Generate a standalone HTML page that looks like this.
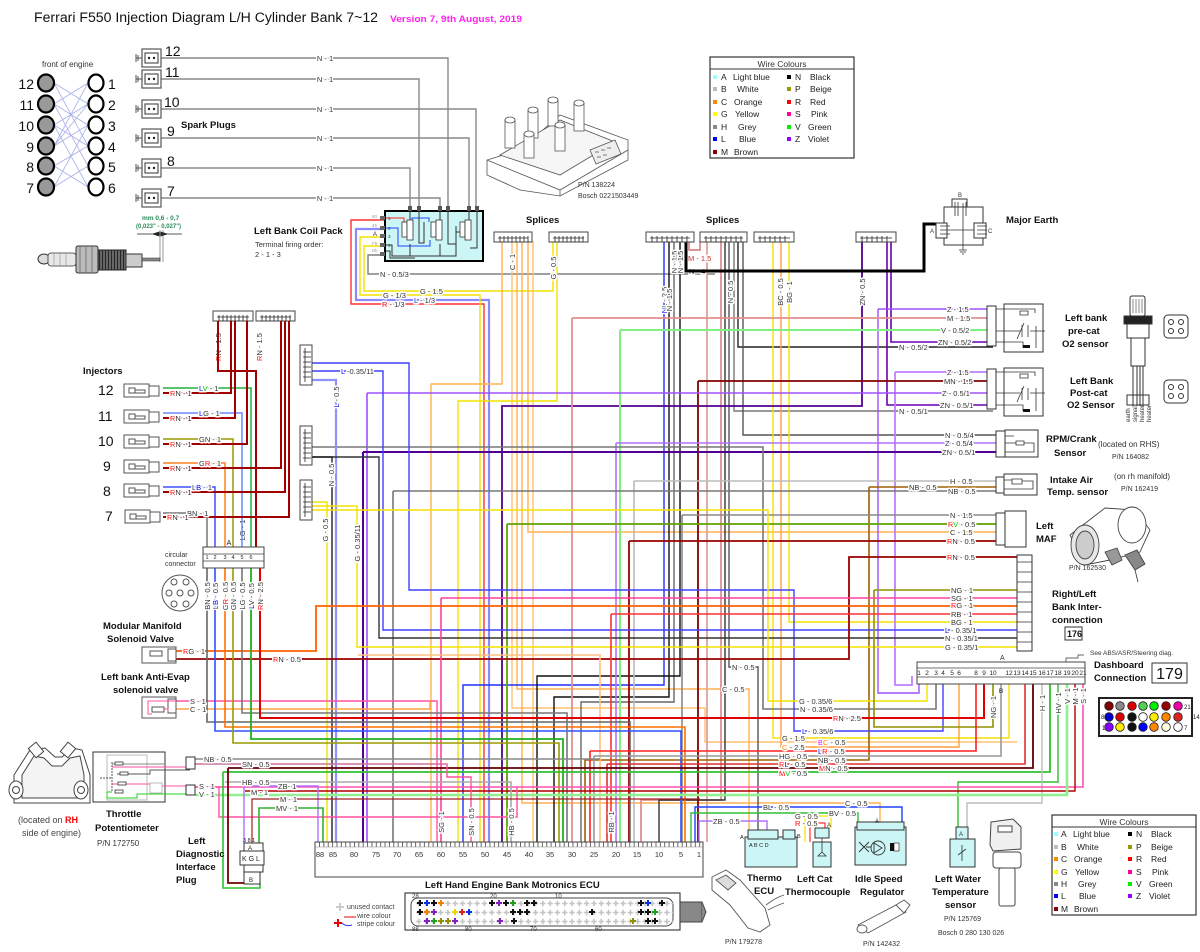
<!DOCTYPE html>
<html><head><meta charset="utf-8">
<style>
html,body{margin:0;padding:0;background:#fff;}
svg{display:block;}
text{font-family:"Liberation Sans",sans-serif;}
.l{font-size:7.5px;fill:#333;stroke:#fff;stroke-width:3px;paint-order:stroke;stroke-linejoin:round;}
.b{font-size:9.5px;font-weight:bold;fill:#111;}
.s{font-size:8px;fill:#333;}
.w path{fill:none;}
</style></head><body>
<svg width="1200" height="952" viewBox="0 0 1200 952" xmlns="http://www.w3.org/2000/svg">
<defs>
<pattern id="tk" x="319" y="842" width="4.37" height="8" patternUnits="userSpaceOnUse"><line x1="0.5" y1="0" x2="0.5" y2="5" stroke="#444" stroke-width="0.8"/></pattern>
<pattern id="cr" x="415" y="899" width="7.3" height="9" patternUnits="userSpaceOnUse"><path d="M1,4.5h5.5M3.75,1.7v5.6" stroke="#c4c4c4" stroke-width="1.6" fill="none"/></pattern>
<pattern id="sp" x="0" y="0" width="3" height="3" patternUnits="userSpaceOnUse"><rect width="3" height="3" fill="#666"/><line x1="0" y1="0" x2="0" y2="3" stroke="#111" stroke-width="1.5"/></pattern>
</defs>
<rect width="1200" height="952" fill="#fff"/>

<!-- Title -->
<text x="34" y="22" font-size="13.5" fill="#111" textLength="344" lengthAdjust="spacingAndGlyphs">Ferrari F550 Injection Diagram L/H Cylinder Bank 7~12</text>
<text x="390" y="22" font-size="9" font-weight="bold" fill="#ff22ee" textLength="132" lengthAdjust="spacingAndGlyphs">Version 7, 9th August, 2019</text>

<!-- Cylinder diagram -->
<text x="42" y="67" font-size="8" fill="#333">front of engine</text>
<g stroke="#a8b0ea" stroke-width="0.8" fill="none">
<path d="M54,83L88,104M54,83L88,146M54,104L88,83M54,104L88,125M54,104L88,166M54,125L88,104M54,125L88,187M54,146L88,125M54,146L88,83M54,166L88,146M54,166L88,187M54,187L88,166M54,187L88,125M54,125L88,146M54,146L88,104"/>
</g>
<g stroke="#000" stroke-width="2.2">
<ellipse cx="46" cy="83" rx="8" ry="8.5" fill="#999"/><ellipse cx="46" cy="104" rx="8" ry="8.5" fill="#999"/><ellipse cx="46" cy="125" rx="8" ry="8.5" fill="#999"/><ellipse cx="46" cy="146" rx="8" ry="8.5" fill="#999"/><ellipse cx="46" cy="166" rx="8" ry="8.5" fill="#999"/><ellipse cx="46" cy="187" rx="8" ry="8.5" fill="#999"/>
<ellipse cx="96" cy="83" rx="7.5" ry="8.5" fill="#fff"/><ellipse cx="96" cy="104" rx="7.5" ry="8.5" fill="#fff"/><ellipse cx="96" cy="125" rx="7.5" ry="8.5" fill="#fff"/><ellipse cx="96" cy="146" rx="7.5" ry="8.5" fill="#fff"/><ellipse cx="96" cy="166" rx="7.5" ry="8.5" fill="#fff"/><ellipse cx="96" cy="187" rx="7.5" ry="8.5" fill="#fff"/>
</g>
<g font-size="14" fill="#111" text-anchor="end">
<text x="34" y="89">12</text><text x="34" y="110">11</text><text x="34" y="131">10</text><text x="34" y="152">9</text><text x="34" y="172">8</text><text x="34" y="193">7</text>
</g>
<g font-size="14" fill="#111">
<text x="108" y="89">1</text><text x="108" y="110">2</text><text x="108" y="131">3</text><text x="108" y="152">4</text><text x="108" y="172">5</text><text x="108" y="193">6</text>
</g>

<!-- spark plug picture -->
<text x="142" y="220" font-size="6.5" font-weight="bold" fill="#2a8a5a">mm 0,6 - 0,7</text>
<text x="136" y="228" font-size="6" font-weight="bold" fill="#2a8a5a">(0,023" - 0,027")</text>
<path d="M137,234H182M153,234l6,-2v4zM167,234l-6,-2v4z" stroke="#222" stroke-width="0.8" fill="#222"/>
<line x1="160" y1="230" x2="160" y2="262" stroke="#555" stroke-width="0.6"/>
<line x1="163" y1="230" x2="163" y2="262" stroke="#555" stroke-width="0.6"/>
<ellipse cx="44" cy="259" rx="6" ry="5" fill="#ddd" stroke="#333"/>
<rect x="48" y="253" width="28" height="13" rx="3" fill="#e8e8e8" stroke="#333" stroke-width="0.8"/>
<path d="M54,253v13M60,253v13M66,253v13" stroke="#999" stroke-width="0.7"/>
<rect x="76" y="246" width="22" height="27" rx="2" fill="#bbb" stroke="#333"/>
<path d="M80,246v27M86,246v27M92,246v27" stroke="#777" stroke-width="1"/>
<rect x="98" y="250" width="28" height="20" fill="url(#sp)" stroke="#222"/>
<rect x="126" y="254" width="16" height="13" fill="#ccc" stroke="#333"/>
<path d="M142,258h18v3h-18z" fill="#888" stroke="#333" stroke-width="0.6"/>

<!-- Spark plug connectors and wires -->
<g class="w" stroke="#888" stroke-width="1.4">
<path d="M136,58H448V208"/><path d="M136,79H419V208"/><path d="M136,109H476V208"/><path d="M136,138H469V208"/><path d="M136,168H410V208"/><path d="M136,198H440V208"/>
</g>
<g stroke="#555" stroke-width="1.2" fill="#fff">
<rect x="142" y="49" width="19" height="18"/><rect x="142" y="70" width="19" height="18"/><rect x="142" y="100" width="19" height="18"/><rect x="142" y="129" width="19" height="18"/><rect x="142" y="159" width="19" height="18"/><rect x="142" y="189" width="19" height="18"/>
<rect x="145" y="53" width="13" height="10"/><rect x="145" y="74" width="13" height="10"/><rect x="145" y="104" width="13" height="10"/><rect x="145" y="133" width="13" height="10"/><rect x="145" y="163" width="13" height="10"/><rect x="145" y="193" width="13" height="10"/>
</g>
<g fill="#222">
<circle cx="149" cy="58" r="1.2"/><circle cx="154" cy="58" r="1.2"/><circle cx="149" cy="79" r="1.2"/><circle cx="154" cy="79" r="1.2"/><circle cx="149" cy="109" r="1.2"/><circle cx="154" cy="109" r="1.2"/><circle cx="149" cy="138" r="1.2"/><circle cx="154" cy="138" r="1.2"/><circle cx="149" cy="168" r="1.2"/><circle cx="154" cy="168" r="1.2"/><circle cx="149" cy="198" r="1.2"/><circle cx="154" cy="198" r="1.2"/>
</g>
<g stroke="#555" stroke-width="1"><path d="M136,54v8M138,55v6M136,75v8M138,76v6M136,105v8M138,106v6M136,134v8M138,135v6M136,164v8M138,165v6M136,194v8M138,195v6"/></g>
<g font-size="14" fill="#111">
<text x="165" y="56">12</text><text x="165" y="77">11</text><text x="164" y="107">10</text><text x="167" y="136">9</text><text x="167" y="166">8</text><text x="167" y="196">7</text>
</g>
<g class="l" text-anchor="middle"><text x="325" y="61">N - 1</text><text x="325" y="82">N - 1</text><text x="325" y="112">N - 1</text><text x="325" y="141">N - 1</text><text x="325" y="171">N - 1</text><text x="325" y="201">N - 1</text></g>
<text x="181" y="128" class="b">Spark Plugs</text>

<!-- Coil pack 3D drawing -->
<g stroke="#555" stroke-width="0.8" fill="#fff">
<path d="M487,160L520,150L560,115L628,140L628,160L560,196L520,190L487,175Z"/>
<path d="M487,160L560,190L628,150"/>
<path d="M560,190V196"/>
<path d="M500,155L560,120L615,142L560,175Z" fill="#f6f6f6"/>
<rect x="505" y="120" width="10" height="28"/><ellipse cx="510" cy="120" rx="5" ry="3"/>
<rect x="528" y="110" width="10" height="28"/><ellipse cx="533" cy="110" rx="5" ry="3"/>
<rect x="548" y="100" width="10" height="26"/><ellipse cx="553" cy="100" rx="5" ry="3"/>
<rect x="574" y="103" width="10" height="28"/><ellipse cx="579" cy="103" rx="5" ry="3"/>
<rect x="555" y="125" width="10" height="26"/><ellipse cx="560" cy="125" rx="5" ry="3"/>
<rect x="524" y="134" width="10" height="24"/><ellipse cx="529" cy="134" rx="5" ry="3"/>
<path d="M590,150l25,-10l6,14l-25,10z" fill="#eee"/>
<path d="M595,152h4M601,150h4M607,148h4M597,157h4M603,155h4" stroke="#555"/>
</g>
<text x="578" y="187" font-size="7" fill="#333">P/N 138224</text>
<text x="578" y="198" font-size="7" fill="#333">Bosch 0221503449</text>

<!-- Coil wires -->
<g class="w" stroke-width="1.4">
<path d="M404,228V220H351V304H484V842" stroke="#ff3030"/>
<path d="M383,229H356V300H489V842" stroke="#8a8aff" stroke-width="2.2"/>
<path d="M383,237H360V295H480V842" stroke="#f2e200"/>
<path d="M383,246H364V291H553V241" stroke="#f2e200"/>
<path d="M383,255H368V274H715" stroke="#808080"/>
</g>
<!-- coil pack box -->
<rect x="385" y="211" width="98" height="50" fill="#ccf6f6" stroke="#000" stroke-width="2"/>
<g fill="#555"><rect x="408" y="206" width="4" height="5"/><rect x="417" y="206" width="4" height="5"/><rect x="438" y="206" width="4" height="5"/><rect x="446" y="206" width="4" height="5"/><rect x="467" y="206" width="4" height="5"/><rect x="475" y="206" width="4" height="5"/></g>
<g fill="#666"><rect x="380" y="216" width="5" height="4"/><rect x="380" y="226" width="5" height="4"/><rect x="380" y="234" width="5" height="4"/><rect x="380" y="243" width="5" height="4"/><rect x="380" y="252" width="5" height="4"/></g>
<g fill="none" stroke-width="1">
<path d="M386,218H404V222" stroke="#ff2020"/>
<path d="M386,228H398V246H430V240M412,238V218H429V222" stroke="#2040ff"/>
<path d="M410,211V222M419,211V243H424V222M440,211V222M448,211V244H456V226M469,211V222M477,211V248H470" stroke="#333"/>
<path d="M386,245H392V256H456V232H462M386,251H390V258H415M410,244V256M440,244V256" stroke="#333"/>
</g>
<g fill="#fff" stroke="#333" stroke-width="0.8">
<rect x="402" y="222" width="5" height="15"/><rect x="407" y="220" width="6" height="20"/>
<rect x="431" y="222" width="5" height="15"/><rect x="436" y="220" width="6" height="20"/>
<rect x="460" y="222" width="5" height="15"/><rect x="465" y="220" width="6" height="20"/>
</g>
<g font-size="4.5" fill="#333"><text x="388" y="220">1</text><text x="388" y="230">2</text><text x="388" y="238">3</text><text x="388" y="247">4</text></g>
<g font-size="4.5" fill="#999"><text x="372" y="218">50</text><text x="372" y="227">45</text><text x="373" y="236" fill="#333" font-size="6">A</text><text x="372" y="245">F5</text><text x="372" y="252">Dk</text></g>

<text x="254" y="234" class="b">Left Bank Coil Pack</text>
<text x="255" y="247" font-size="7.5" fill="#333">Terminal firing order:</text>
<text x="255" y="257" font-size="7.5" fill="#333">2 - 1 - 3</text>
<g class="l"><text x="380" y="277">N - 0.5/3</text><text x="383" y="298">G - 1/3</text><text x="420" y="294">G - 1.5</text><text x="414" y="303"><tspan fill="#2020ff">L</tspan> - 1/3</text><text x="382" y="307"><tspan fill="#ff0000">R</tspan> - 1/3</text></g>

<!-- Legend 1 -->
<rect x="710" y="57" width="144" height="101" fill="#fff" stroke="#333" stroke-width="1.2"/>
<line x1="710" y1="69" x2="854" y2="69" stroke="#333"/>
<text x="782" y="67" font-size="8.5" fill="#333" text-anchor="middle">Wire Colours</text>
<g font-size="8.5" fill="#222">
<rect x="713" y="75" width="4" height="4" fill="#9ff"/><text x="721" y="80">A</text><text x="733" y="80">Light blue</text>
<rect x="713" y="87" width="4" height="4" fill="#bbb"/><text x="721" y="92">B</text><text x="737" y="92">White</text>
<rect x="713" y="100" width="4" height="4" fill="#f80"/><text x="721" y="105">C</text><text x="734" y="105">Orange</text>
<rect x="713" y="112" width="4" height="4" fill="#ff0"/><text x="721" y="117">G</text><text x="735" y="117">Yellow</text>
<rect x="713" y="125" width="4" height="4" fill="#888"/><text x="721" y="130">H</text><text x="738" y="130">Grey</text>
<rect x="713" y="137" width="4" height="4" fill="#00f"/><text x="721" y="142">L</text><text x="739" y="142">Blue</text>
<rect x="713" y="150" width="4" height="4" fill="#800"/><text x="721" y="155">M</text><text x="734" y="155">Brown</text>
<rect x="787" y="75" width="4" height="4" fill="#000"/><text x="795" y="80">N</text><text x="810" y="80">Black</text>
<rect x="787" y="87" width="4" height="4" fill="#990"/><text x="795" y="92">P</text><text x="810" y="92">Beige</text>
<rect x="787" y="100" width="4" height="4" fill="#f00"/><text x="795" y="105">R</text><text x="810" y="105">Red</text>
<rect x="787" y="112" width="4" height="4" fill="#f09"/><text x="795" y="117">S</text><text x="811" y="117">Pink</text>
<rect x="787" y="125" width="4" height="4" fill="#0e0"/><text x="795" y="130">V</text><text x="808" y="130">Green</text>
<rect x="787" y="137" width="4" height="4" fill="#90f"/><text x="795" y="142">Z</text><text x="808" y="142">Violet</text>
</g>

<!-- Splices labels -->
<text x="526" y="223" class="b">Splices</text>
<text x="706" y="223" class="b">Splices</text>

<!-- ===== MAIN WIRING ===== -->
<g class="w" stroke-width="1.4">
<path d="M502,241V384H431V842" stroke="#ffb050"/>
<path d="M512,241V708H705V742H1017" stroke="#ffc070"/>
<path d="M517,241V689H749V837" stroke="#ffb050"/>
<path d="M522,241V803H880V827" stroke="#ffb050"/>
<path d="M528,241V532H1005" stroke="#ffb050"/>
<path d="M533,241V842" stroke="#ffc070"/>
<path d="M557,241V401H458V842" stroke="#f2e200"/>
<path d="M664,241V685H463V842" stroke="#2030ff"/>
<path d="M669,241V697H554V842" stroke="#111"/>
<path d="M674,241V702H581V842" stroke="#666"/>
<path d="M680,241V676H537V842" stroke="#111"/>
<path d="M689,241V250H700V241" stroke="#d07070"/>
<path d="M707,241V842" stroke="#e0a0a0" stroke-width="1.8"/>
<path d="M721,241V800H641V842" stroke="#e09090" stroke-width="1.8"/>
<path d="M725,241V800H659V842" stroke="#333"/>
<path d="M729,241V667H758V838" stroke="#555"/>
<path d="M734,241V411H993" stroke="#777"/>
<path d="M738,241V347H993" stroke="#222"/>
<path d="M743,241V435H996" stroke="#555"/>
<path d="M773,241V738H1009V684" stroke="#f2e200"/>
<path d="M781,241V747H959V684" stroke="#ffa040"/>
<path d="M789,241V622H1017" stroke="#f2e200"/>
<path d="M862,241V406H502V842" stroke="#500090" stroke-width="1.8"/>
<path d="M887,241V405H996" stroke="#6a00b0" stroke-width="1.6"/>
<path d="M891,241V342H996" stroke="#6a00b0" stroke-width="1.6"/>
<path d="M878,309H993M878,309V693H919V684" stroke="#a050ff"/>
<path d="M572,318H993M572,318V842" stroke="#e09090" stroke-width="1.8"/>
<path d="M620,330H993M620,330V842" stroke="#80f080" stroke-width="2"/>
<path d="M895,372H993M895,372V685H912V676" stroke="#c080ff" stroke-width="1.8"/>
<path d="M698,381H993M698,381V842" stroke="#800000" stroke-width="1.8"/>
<path d="M367,393H993M367,393V842" stroke="#a050ff" stroke-width="1.6"/>
<path d="M616,443H996M616,443V842" stroke="#b070ff" stroke-width="1.6"/>
<path d="M363,452H996M363,452V842" stroke="#500090" stroke-width="2"/>
<path d="M311,447H763V709H936V684" stroke="#777" stroke-width="1.6"/>
<path d="M634,481H1004M634,481V842" stroke="#bbb" stroke-width="1.6"/>
<path d="M393,491H1004M393,491V842" stroke="#777" stroke-width="1.6"/>
<path d="M869,487H1004M869,487V760H585V842" stroke="#a06000" stroke-width="1.6"/>
<path d="M682,515H1005M682,515V842" stroke="#888" stroke-width="1.6"/>
<path d="M507,524H1005M507,524V842" stroke="#60a000" stroke-width="1.8"/>
<path d="M629,541H1005M629,541V842" stroke="#900" stroke-width="1.8"/>
<path d="M311,363H409V590H794V731H943V684" stroke="#4040ff"/>
<path d="M311,371H383V630H1017" stroke="#4040ff"/>
<path d="M311,380H336V842" stroke="#9090ff" stroke-width="2.2"/>
<path d="M311,457H379V638H1017" stroke="#333"/>
<path d="M311,457H332V842" stroke="#222"/>
<path d="M311,506H357V647H1017" stroke="#f2e200"/>
<path d="M311,510H768V701H927V684" stroke="#f2e200"/>
<path d="M311,502H327V842" stroke="#f2e200"/>
<path d="M176,659H849V557H1017" stroke="#900" stroke-width="1.8"/>
<path d="M874,590H1017M874,590V727H993V684" stroke="#909000" stroke-width="1.6"/>
<path d="M441,598H1017M441,598V842" stroke="#ff40a0" stroke-width="1.6"/>
<path d="M176,651H316V606H1017" stroke="#ff6000" stroke-width="1.8"/>
<path d="M611,614H1017M611,614V842" stroke="#ff3030" stroke-width="1.6"/>
<path d="M358,655H600V842" stroke="#ffc080" stroke-width="1.6"/>
<path d="M176,701H437V842" stroke="#ff50a0"/>
<path d="M176,709H430V700" stroke="#ffa040"/>
<path d="M207,568V722H630V842" stroke="#666" stroke-width="1.6"/>
<path d="M215,568V731H681V842" stroke="#3050ff" stroke-width="1.6"/>
<path d="M225,568V727H685V842" stroke="#ff7000" stroke-width="1.6"/>
<path d="M233,568V743H559V842" stroke="#9a9a00" stroke-width="1.6"/>
<path d="M242,568V713H567V842" stroke="#777" stroke-width="1.6"/>
<path d="M251,568V739H563V842" stroke="#20b020" stroke-width="1.8"/>
<path d="M260,568V718H984V684" stroke="#e00000" stroke-width="2"/>
<path d="M590,751H976V684M590,751V842" stroke="#ff2020" stroke-width="1.6"/>
<path d="M594,756H1001V684M594,756V842" stroke="#999" stroke-width="1.6"/>
<path d="M607,764H1025V684M607,764V842" stroke="#e03030" stroke-width="1.6"/>
<path d="M228,768H1033V684" stroke="#600000" stroke-width="1.8"/>
<path d="M223,772H1050V684" stroke="#30c030" stroke-width="1.8"/>
<path d="M1058,684V782H958V833" stroke="#30c030" stroke-width="1.4"/>
<path d="M1042,684V803H967V833" stroke="#bbb" stroke-width="1.4"/>
<path d="M195,787H1083V684" stroke="#ff50b0" stroke-width="1.6"/>
<path d="M245,791H1075V684" stroke="#b00000" stroke-width="1.4"/>
<path d="M195,795H1067V684" stroke="#90f090" stroke-width="2.6"/>
<path d="M195,759H600" stroke="#888" stroke-width="1.6"/>
<path d="M195,764H447V777H471V842" stroke="#ff50a0" stroke-width="1.4"/>
<path d="M195,764H447" stroke="#999" stroke-width="0.8"/>
<path d="M225,782H511V842" stroke="#aaa" stroke-width="1.6"/>
<path d="M195,787H219V817H517V787" stroke="#ff50a0" stroke-width="1.4"/>
<path d="M244,843V786H318V842" stroke="#b070ff" stroke-width="1.4"/>
<path d="M252,843V799H700" stroke="#a02020" stroke-width="1.2"/>
<path d="M259,843V808H323V842" stroke="#30b030" stroke-width="1.6"/>
<path d="M228,768V883H248V883" stroke="#700000" stroke-width="1.8"/>
<path d="M223,772V888H260V883" stroke="#30c030" stroke-width="1.6"/>
<path d="M695,842V807H902V827" stroke="#2040ff" stroke-width="1.4"/>
<path d="M691,842V813H858V827" stroke="#30c030" stroke-width="1.4"/>
<path d="M699,842V821H767V837" stroke="#b070ff" stroke-width="1.4"/>
<path d="M805,842V816H831V828" stroke="#f2e200" stroke-width="1.2"/>
<path d="M810,842V823H825V828" stroke="#ff3030" stroke-width="1.2"/>
</g>

<!-- labels -->
<g class="l">
<text x="947" y="312">Z - 1.5</text><text x="947" y="321">M - 1.5</text><text x="941" y="333">V - 0.5/2</text><text x="938" y="345">ZN - 0.5/2</text><text x="899" y="350">N - 0.5/2</text>
<text x="947" y="375">Z - 1.5</text><text x="944" y="384">MN - 1.5</text><text x="942" y="396">Z - 0.5/1</text><text x="940" y="408">ZN - 0.5/1</text><text x="899" y="414">N - 0.5/1</text>
<text x="945" y="438">N - 0.5/4</text><text x="945" y="446">Z - 0.5/4</text><text x="942" y="455">ZN - 0.5/1</text>
<text x="950" y="484">H - 0.5</text><text x="909" y="490">NB - 0.5</text><text x="948" y="494">NB - 0.5</text>
<text x="950" y="518">N - 1.5</text><text x="948" y="527"><tspan fill="#f00">R</tspan><tspan fill="#0c0">V</tspan> - 0.5</text><text x="950" y="535">C - 1.5</text><text x="947" y="544"><tspan fill="#f00">R</tspan>N - 0.5</text>
<text x="947" y="560"><tspan fill="#f00">R</tspan>N - 0.5</text><text x="951" y="593">NG - 1</text><text x="951" y="601">SG - 1</text><text x="951" y="608"><tspan fill="#f00">R</tspan>G - 1</text><text x="951" y="617">RB - 1</text><text x="951" y="625">BG - 1</text>
<text x="945" y="633"><tspan fill="#00f">L</tspan> - 0.35/1</text><text x="945" y="641">N - 0.35/1</text><text x="945" y="650">G - 0.35/1</text>
<text x="799" y="704">G - 0.35/6</text><text x="800" y="712">N - 0.35/6</text><text x="833" y="721"><tspan fill="#f00">R</tspan>N - 2.5</text><text x="802" y="734"><tspan fill="#00f">L</tspan> - 0.35/6</text>
<text x="782" y="741">G - 1.5</text><text x="818" y="745"><tspan fill="#f0f">B</tspan><tspan fill="#f80">C</tspan> - 0.5</text><text x="782" y="750"><tspan fill="#f80">C</tspan> - 2.5</text><text x="818" y="754"><tspan fill="#00f">L</tspan><tspan fill="#f00">R</tspan> - 0.5</text>
<text x="779" y="759">HG - 0.5</text><text x="818" y="763">NB - 0.5</text><text x="779" y="767"><tspan fill="#f00">R</tspan><tspan fill="#00f">L</tspan> - 0.5</text><text x="819" y="771"><tspan fill="#f00">M</tspan>N - 0.5</text><text x="779" y="776"><tspan fill="#f00">M</tspan><tspan fill="#0c0">V</tspan> - 0.5</text>
<text x="732" y="670">N - 0.5</text><text x="722" y="692">C - 0.5</text>
<text x="763" y="810">BL - 0.5</text><text x="845" y="806">C - 0.5</text><text x="829" y="816">BV - 0.5</text><text x="795" y="819">G - 0.5</text><text x="795" y="826"><tspan fill="#f00">R</tspan> - 0.5</text><text x="713" y="824">ZB - 0.5</text>
<text x="183" y="654"><tspan fill="#f00">R</tspan>G - 1</text><text x="273" y="662"><tspan fill="#f00">R</tspan>N - 0.5</text><text x="190" y="704">S - 1</text><text x="190" y="712">C - 1</text>
<text x="204" y="762">NB - 0.5</text><text x="242" y="767">SN - 0.5</text><text x="242" y="785">HB - 0.5</text><text x="199" y="789">S - 1</text><text x="199" y="797">V - 1</text><text x="278" y="789">ZB- 1</text><text x="251" y="795">M - 1</text><text x="280" y="802">M - 1</text><text x="276" y="811">MV - 1</text>
<text x="688" y="261" fill="#d03030">M - 1.5</text><text x="689" y="274">N - 4</text>
</g>
<path d="M686,241V271H924V224H937" fill="none" stroke="#000" stroke-width="3"/>
<g class="l" font-size="7">
<text transform="translate(515,262) rotate(-90)" text-anchor="middle">C - 1</text>
<text transform="translate(556,268) rotate(-90)" text-anchor="middle">G - 0.5</text>
<text transform="translate(667,300) rotate(-90)" text-anchor="middle"><tspan fill="#00f">N</tspan>L - 2.5</text>
<text transform="translate(677,262) rotate(-90)" text-anchor="middle">N - 1.5</text>
<text transform="translate(683,262) rotate(-90)" text-anchor="middle">N - 1.5</text>
<text transform="translate(672,300) rotate(-90)" text-anchor="middle">N - 1.5</text>
<text transform="translate(733,292) rotate(-90)" text-anchor="middle">N - 0.5</text>
<text transform="translate(783,292) rotate(-90)" text-anchor="middle">BC - 0.5</text>
<text transform="translate(792,292) rotate(-90)" text-anchor="middle">BG - 1</text>
<text transform="translate(865,292) rotate(-90)" text-anchor="middle">ZN - 0.5</text>
<text transform="translate(221,347) rotate(-90)" text-anchor="middle"><tspan fill="#f00">R</tspan>N - 1.5</text>
<text transform="translate(262,347) rotate(-90)" text-anchor="middle"><tspan fill="#f00">R</tspan>N - 1.5</text>
<text transform="translate(339,397) rotate(-90)" text-anchor="middle"><tspan fill="#00f">L</tspan> - 0.5</text>
<text transform="translate(334,475) rotate(-90)" text-anchor="middle">N - 0.5</text>
<text transform="translate(328,530) rotate(-90)" text-anchor="middle">G - 0.5</text>
<text transform="translate(360,543) rotate(-90)" text-anchor="middle">G - 0.35/11</text>
<text transform="translate(245,530) rotate(-90)" text-anchor="middle">LG - 1</text>
<text transform="translate(444,822) rotate(-90)" text-anchor="middle">SG - 1</text>
<text transform="translate(474,822) rotate(-90)" text-anchor="middle">SN - 0.5</text>
<text transform="translate(514,822) rotate(-90)" text-anchor="middle">HB - 0.5</text>
<text transform="translate(614,822) rotate(-90)" text-anchor="middle">RB - 1</text>
<text transform="translate(996,707) rotate(-90)" text-anchor="middle">NG - 1</text>
<text transform="translate(1045,703) rotate(-90)" text-anchor="middle">H - 1</text>
<text transform="translate(1061,703) rotate(-90)" text-anchor="middle">HV - 1</text>
<text transform="translate(1070,696) rotate(-90)" text-anchor="middle">V - 1</text>
<text transform="translate(1078,696) rotate(-90)" text-anchor="middle">M - 1</text>
<text transform="translate(1086,696) rotate(-90)" text-anchor="middle">S - 1</text>
</g>
<text x="341" y="374" class="l"><tspan fill="#00f">L</tspan> -0.35/11</text>

<!-- Splice boxes -->
<g fill="#fff" stroke="#444" stroke-width="1">
<rect x="494" y="232" width="38" height="10"/><rect x="549" y="232" width="39" height="10"/><rect x="646" y="232" width="48" height="10"/><rect x="700" y="232" width="47" height="10"/><rect x="754" y="232" width="40" height="10"/><rect x="856" y="232" width="40" height="10"/>
<rect x="213" y="311" width="40" height="10"/><rect x="256" y="311" width="39" height="10"/>
</g>
<g stroke="#222" stroke-width="0.8">
<path d="M498,238H528M500,236v6M504,236v6M508,236v6M512,236v6M516,236v6M520,236v6M524,236v6M528,236v6"/>
<path d="M553,238H584M555,236v6M559,236v6M563,236v6M567,236v6M571,236v6M575,236v6M579,236v6M583,236v6"/>
<path d="M650,238H690M652,236v6M657,236v6M662,236v6M667,236v6M672,236v6M677,236v6M682,236v6M687,236v6"/>
<path d="M704,238H743M706,236v6M711,236v6M716,236v6M721,236v6M726,236v6M731,236v6M736,236v6M741,236v6"/>
<path d="M758,238H790M760,236v6M765,236v6M770,236v6M775,236v6M780,236v6M785,236v6"/>
<path d="M860,238H892M862,236v6M867,236v6M872,236v6M877,236v6M882,236v6M887,236v6"/>
<path d="M217,317H249M219,315v6M223,315v6M227,315v6M231,315v6M235,315v6M239,315v6M243,315v6M247,315v6"/>
<path d="M260,317H291M262,315v6M266,315v6M270,315v6M274,315v6M278,315v6M282,315v6M286,315v6M290,315v6"/>
</g>

<!-- Major Earth -->
<g fill="#fff" stroke="#333" stroke-width="1">
<rect x="944" y="207" width="39" height="38"/>
<rect x="952" y="199" width="15" height="8"/><rect x="936" y="223" width="11" height="15"/><rect x="974" y="223" width="12" height="15"/>
</g>
<path d="M963,203v40M955,202v14M958,202v14M966,202v14M940,226h10M940,230h10M940,234h10M977,226h10M977,230h10M977,234h10M947,230h27M963,243v7M959,250h8M960,252h6M962,254h2" stroke="#333" stroke-width="0.8" fill="none"/>
<text x="958" y="197" font-size="6" fill="#333">B</text><text x="930" y="233" font-size="6" fill="#333">A</text><text x="988" y="233" font-size="6" fill="#333">C</text>
<text x="1006" y="223" class="b">Major Earth</text>

<!-- sensors -->
<g fill="#fff" stroke="#333" stroke-width="1">
<rect x="987" y="306" width="9" height="40"/><rect x="1004" y="304" width="39" height="48"/>
<rect x="987" y="369" width="9" height="40"/><rect x="1004" y="368" width="39" height="48"/>
<rect x="996" y="431" width="9" height="26"/><rect x="1005" y="430" width="33" height="27"/>
<rect x="996" y="477" width="8" height="16"/><rect x="1004" y="474" width="33" height="21"/>
<rect x="996" y="513" width="9" height="32"/><rect x="1005" y="511" width="21" height="36"/>
<rect x="1017" y="555" width="15" height="96"/>
</g>
<g fill="none" stroke="#333" stroke-width="0.8">
<path d="M996,309H1035V313M1028,311h-8v4h8zM996,331H1020M1030,331H1045M1024,323l-7,16M1022,325v12M1028,325v12M996,342H1023V348M1036,326V348"/>
<path d="M996,372H1035V376M1028,374h-8v4h8zM996,393H1020M1030,393H1045M1024,386l-7,16M1022,388v12M1028,388v12M996,405H1023V411M1036,388V411"/>
<path d="M1005,436H1014M1005,443H1016M1016,441h8v4h-8zM1024,443H1034V452H1005"/>
<path d="M1004,480H1012M1012,479h10v5h-10zM1022,481H1033V489H1004"/>
<path d="M1017,562h15M1017,572h15M1017,582h15M1017,592h15M1017,602h15M1017,612h15M1017,622h15M1017,632h15M1017,642h15"/>
</g>
<rect x="1023" y="345" width="7" height="3" fill="#111"/><rect x="1023" y="409" width="7" height="3" fill="#111"/>
<text x="1065" y="321" class="b">Left bank</text><text x="1068" y="334" class="b">pre-cat</text><text x="1062" y="347" class="b">O2 sensor</text>
<text x="1070" y="384" class="b">Left Bank</text><text x="1070" y="396" class="b">Post-cat</text><text x="1067" y="408" class="b">O2 Sensor</text>
<text x="1046" y="442" class="b">RPM/Crank</text><text x="1054" y="456" class="b">Sensor</text>
<text x="1098" y="447" font-size="8" fill="#333">(located on RHS)</text><text x="1112" y="459" font-size="7" fill="#333">P/N 164082</text>
<text x="1050" y="483" class="b">Intake Air</text><text x="1047" y="495" class="b">Temp. sensor</text>
<text x="1114" y="479" font-size="8" fill="#333">(on rh manifold)</text><text x="1121" y="491" font-size="7" fill="#333">P/N 162419</text>
<text x="1036" y="529" class="b">Left</text><text x="1036" y="542" class="b">MAF</text>
<text x="1069" y="570" font-size="7" fill="#333">P/N 162530</text>
<text x="1052" y="597" class="b">Right/Left</text><text x="1052" y="610" class="b">Bank Inter-</text><text x="1052" y="623" class="b">connection</text>
<rect x="1065" y="627" width="17" height="13" fill="#fff" stroke="#333"/><text x="1067" y="637" font-size="9" font-weight="bold" fill="#111">176</text>

<!-- O2 sensor picture -->
<g stroke="#333" stroke-width="1" fill="#fff">
<rect x="1130" y="296" width="15" height="20" rx="2"/><path d="M1133,299v14M1136,299v14M1139,299v14M1142,299v14" stroke="#888"/>
<rect x="1124" y="316" width="28" height="8" fill="#222"/>
<rect x="1127" y="324" width="22" height="14"/>
<rect x="1131" y="338" width="14" height="28"/>
<path d="M1133,366v40M1137,366v40M1140,366v40M1143,366v40"/>
<path d="M1127,395h22v10h-22z" fill="none"/>
</g>
<text transform="translate(1130,422) rotate(-90)" font-size="6" fill="#333">earth</text>
<text transform="translate(1137,422) rotate(-90)" font-size="6" fill="#333">signal</text>
<text transform="translate(1144,422) rotate(-90)" font-size="6" fill="#333">heater</text>
<text transform="translate(1151,422) rotate(-90)" font-size="6" fill="#333">heater</text>
<g stroke="#333" stroke-width="1" fill="#fff">
<rect x="1164" y="315" width="24" height="23" rx="4"/><circle cx="1171" cy="322" r="2.5"/><circle cx="1181" cy="322" r="2.5"/><circle cx="1171" cy="331" r="2.5"/><circle cx="1181" cy="331" r="2.5"/>
<rect x="1164" y="380" width="24" height="23" rx="4"/><circle cx="1171" cy="387" r="2.5"/><circle cx="1181" cy="387" r="2.5"/><circle cx="1171" cy="396" r="2.5"/><circle cx="1181" cy="396" r="2.5"/>
</g>
<!-- MAF picture -->
<g stroke="#444" stroke-width="0.9" fill="#fff">
<path d="M1070,535L1105,508L1135,510L1150,530L1140,552L1110,560L1085,565Z"/>
<ellipse cx="1085" cy="545" rx="14" ry="20" fill="#e8e8e8"/>
<ellipse cx="1085" cy="545" rx="9" ry="14" fill="#ccc"/>
<ellipse cx="1132" cy="525" rx="14" ry="18"/>
<path d="M1105,552l12,-4l5,12l-10,5z" fill="#999"/>
<path d="M1125,555l12,-5l8,14l-10,6z" fill="#888"/>
<path d="M1135,570l3,12" />
</g>

<!-- Dashboard connection -->
<text x="1090" y="655" font-size="6.5" fill="#333">See ABS/ASR/Steering diag.</text>
<path d="M1066,662v-4h12v-3h6" fill="none" stroke="#333" stroke-width="0.7"/>
<rect x="917" y="662" width="168" height="22" fill="#fff" stroke="#444"/>
<path d="M917,668H1085M917,677H1085" stroke="#444" stroke-width="0.7"/>
<text x="1000" y="660" font-size="7" fill="#333">A</text>
<g font-size="6.5" fill="#222" text-anchor="middle">
<text x="919" y="675">1</text><text x="927" y="675">2</text><text x="936" y="675">3</text><text x="943" y="675">4</text><text x="952" y="675">5</text><text x="959" y="675">6</text><text x="976" y="675">8</text><text x="984" y="675">9</text><text x="993" y="675">10</text><text x="1009" y="675">12</text><text x="1017" y="675">13</text><text x="1025" y="675">14</text><text x="1033" y="675">15</text><text x="1042" y="675">16</text><text x="1050" y="675">17</text><text x="1058" y="675">18</text><text x="1067" y="675">19</text><text x="1075" y="675">20</text><text x="1083" y="675">21</text>
<text x="1001" y="693">B</text>
</g>
<text x="1094" y="668" class="b">Dashboard</text><text x="1094" y="681" class="b">Connection</text>
<rect x="1152" y="663" width="35" height="20" fill="#fff" stroke="#333"/><text x="1169.5" y="679" font-size="16" fill="#111" text-anchor="middle">179</text>
<rect x="1099" y="698" width="93" height="38" fill="#fff" stroke="#222" stroke-width="2"/>
<g stroke="#222" stroke-width="0.8">
<circle cx="1109" cy="706" r="4.3" fill="#800000"/><circle cx="1120" cy="706" r="4.3" fill="#888"/><circle cx="1132" cy="706" r="4.3" fill="#d00"/><circle cx="1143" cy="706" r="4.3" fill="#5c5"/><circle cx="1154" cy="706" r="4.3" fill="#0e0"/><circle cx="1166" cy="706" r="4.3" fill="#900"/><circle cx="1178" cy="706" r="4.3" fill="#e0a"/>
<circle cx="1109" cy="717" r="4.3" fill="#00c"/><circle cx="1120" cy="717" r="4.3" fill="#d00"/><circle cx="1132" cy="717" r="4.3" fill="#111"/><circle cx="1143" cy="717" r="4.3" fill="#fff"/><circle cx="1154" cy="717" r="4.3" fill="#fe0"/><circle cx="1166" cy="717" r="4.3" fill="#f80"/><circle cx="1178" cy="717" r="4.3" fill="#d22"/>
<circle cx="1109" cy="727" r="4.3" fill="#80f"/><circle cx="1120" cy="727" r="4.3" fill="#fe0"/><circle cx="1132" cy="727" r="4.3" fill="#111"/><circle cx="1143" cy="727" r="4.3" fill="#00f"/><circle cx="1154" cy="727" r="4.3" fill="#f80"/><circle cx="1166" cy="727" r="4.3" fill="#ffd"/><circle cx="1178" cy="727" r="4.3" fill="#fff"/>
</g>
<g font-size="6" fill="#222"><text x="1184" y="709">21</text><text x="1101" y="719">8</text><text x="1193" y="719">14</text><text x="1102" y="730">1</text><text x="1184" y="730">7</text></g>

<!-- Left components -->
<text x="83" y="374" class="b">Injectors</text>
<g font-size="14" fill="#111">
<text x="98" y="395">12</text><text x="98" y="421">11</text><text x="98" y="446">10</text><text x="103" y="471">9</text><text x="103" y="496">8</text><text x="105" y="521">7</text>
</g>
<g class="w" stroke-width="1.5">
<path d="M163,388H251V547" stroke="#20b040"/>
<path d="M163,413H242V547" stroke="#6a8aff"/>
<path d="M163,439H233V547" stroke="#9a9a00"/>
<path d="M163,463H225V547" stroke="#ff8020"/>
<path d="M163,487H215V547" stroke="#4050ff"/>
<path d="M163,513H207V547" stroke="#777"/>
<path d="M163,393H231V321" stroke="#a00000" stroke-width="2"/>
<path d="M163,418H235V321" stroke="#a00000" stroke-width="2"/>
<path d="M163,444H247V321" stroke="#a00000" stroke-width="2"/>
<path d="M163,468H281V321" stroke="#a00000" stroke-width="2"/>
<path d="M163,492H285V321" stroke="#a00000" stroke-width="2"/>
<path d="M163,517H289V321" stroke="#a00000" stroke-width="2"/>
<path d="M218,321V371H256V547" stroke="#a00000" stroke-width="2"/>
</g>
<g fill="#fff" stroke="#555" stroke-width="1">
<rect x="124" y="384" width="25" height="13"/><rect x="149" y="386" width="10" height="10"/>
<rect x="124" y="410" width="25" height="13"/><rect x="149" y="412" width="10" height="10"/>
<rect x="124" y="435" width="25" height="13"/><rect x="149" y="437" width="10" height="10"/>
<rect x="124" y="460" width="25" height="13"/><rect x="149" y="462" width="10" height="10"/>
<rect x="124" y="484" width="25" height="13"/><rect x="149" y="486" width="10" height="10"/>
<rect x="125" y="510" width="25" height="13"/><rect x="150" y="512" width="10" height="10"/>
<path d="M129,388h6v5h-6zM135,390h10v3h-10zM129,414h6v5h-6zM135,416h10v3h-10zM129,439h6v5h-6zM135,441h10v3h-10zM129,464h6v5h-6zM135,466h10v3h-10zM129,488h6v5h-6zM135,490h10v3h-10zM130,514h6v5h-6zM136,516h10v3h-10z" fill="none"/>
</g>
<g class="l">
<text x="199" y="391"><tspan fill="#00f">L</tspan><tspan fill="#0b0">V</tspan> - 1</text><text x="170" y="396"><tspan fill="#f00">R</tspan>N - 1</text>
<text x="199" y="416"><tspan fill="#00f">L</tspan>G - 1</text><text x="170" y="421"><tspan fill="#f00">R</tspan>N - 1</text>
<text x="199" y="442">GN - 1</text><text x="170" y="447"><tspan fill="#f00">R</tspan>N - 1</text>
<text x="199" y="466">G<tspan fill="#f00">R</tspan> - 1</text><text x="170" y="471"><tspan fill="#f00">R</tspan>N - 1</text>
<text x="192" y="490">L<tspan fill="#00f">B</tspan> - 1</text><text x="170" y="495"><tspan fill="#f00">R</tspan>N - 1</text>
<text x="187" y="516">BN - 1</text><text x="167" y="520"><tspan fill="#f00">R</tspan>N - 1</text>
</g>
<g fill="#fff" stroke="#444" stroke-width="1">
<rect x="300" y="345" width="12" height="40"/><rect x="300" y="426" width="12" height="39"/><rect x="300" y="480" width="12" height="40"/>
</g>
<g stroke="#222" stroke-width="0.8"><path d="M305,348V382M303,352h8M303,357h8M303,362h8M303,367h8M303,372h8M303,377h8M305,429V462M303,433h8M303,438h8M303,443h8M303,448h8M303,453h8M303,458h8M305,483V517M303,487h8M303,492h8M303,497h8M303,502h8M303,507h8M303,512h8"/></g>
<rect x="203" y="547" width="61" height="21" fill="#fff" stroke="#444"/>
<path d="M203,554H264M203,561H264" stroke="#444" stroke-width="0.7"/>
<g font-size="5.5" fill="#222" text-anchor="middle"><text x="207" y="559">1</text><text x="215" y="559">2</text><text x="225" y="559">3</text><text x="233" y="559">4</text><text x="242" y="559">5</text><text x="251" y="559">6</text><text x="229" y="545" font-size="7">A</text></g>
<text x="165" y="557" font-size="7" fill="#333">circular</text><text x="165" y="566" font-size="7" fill="#333">connector</text>
<g stroke="#555" stroke-width="1" fill="#fff"><circle cx="180" cy="593" r="18"/><circle cx="174" cy="582" r="3"/><circle cx="186" cy="582" r="3"/><circle cx="169" cy="593" r="3"/><circle cx="180" cy="593" r="3"/><circle cx="191" cy="593" r="3"/><circle cx="174" cy="604" r="3"/><circle cx="186" cy="604" r="3"/></g>
<g class="l" font-size="6.5">
<text transform="translate(210,596) rotate(-90)" text-anchor="middle">BN - 0.5</text>
<text transform="translate(218,596) rotate(-90)" text-anchor="middle">L<tspan fill="#00f">B</tspan> - 0.5</text>
<text transform="translate(228,596) rotate(-90)" text-anchor="middle">G<tspan fill="#f00">R</tspan> - 0.5</text>
<text transform="translate(236,596) rotate(-90)" text-anchor="middle">GN - 0.5</text>
<text transform="translate(245,596) rotate(-90)" text-anchor="middle">LG - 0.5</text>
<text transform="translate(254,596) rotate(-90)" text-anchor="middle"><tspan fill="#00f">L</tspan>V - 0.5</text>
<text transform="translate(263,596) rotate(-90)" text-anchor="middle"><tspan fill="#f00">R</tspan>N - 2.5</text>
</g>

<text x="103" y="629" class="b">Modular Manifold</text><text x="107" y="642" class="b">Solenoid Valve</text>
<rect x="142" y="647" width="34" height="16" fill="#fff" stroke="#555"/><rect x="168" y="649" width="8" height="12" fill="#fff" stroke="#555"/><rect x="150" y="651" width="12" height="5" fill="none" stroke="#555"/>
<text x="101" y="680" class="b">Left bank Anti-Evap</text><text x="113" y="693" class="b">solenoid valve</text>
<rect x="142" y="697" width="34" height="21" fill="#fff" stroke="#555"/><rect x="168" y="699" width="8" height="14" fill="#fff" stroke="#555"/><rect x="152" y="707" width="12" height="5" fill="none" stroke="#555"/>
<path d="M176,701H148V714H152M164,709H168V711" fill="none" stroke="#ff50a0"/>

<!-- Throttle pot -->
<g stroke="#444" stroke-width="1" fill="#fff">
<path d="M14,775L30,750L45,748L55,757L62,757L72,748L82,750L90,775L90,803L14,803Z"/>
<path d="M22,775L34,756L44,758L52,766L62,766L70,758L80,756L84,775L84,798L22,798Z" fill="#f4f4f4"/>
<ellipse cx="16" cy="790" rx="7" ry="9"/><circle cx="16" cy="790" r="3.5"/>
<ellipse cx="81" cy="790" rx="7" ry="9"/><circle cx="81" cy="790" r="3.5"/>
<rect x="31" y="744" width="10" height="12" transform="rotate(-40 36 750)"/><rect x="63" y="744" width="10" height="12" transform="rotate(40 68 750)"/>
</g>
<text x="18" y="823" font-size="9" fill="#444">(located on <tspan fill="#f00" font-weight="bold">RH</tspan></text>
<text x="22" y="836" font-size="9" fill="#444">side of engine)</text>
<rect x="93" y="752" width="72" height="50" fill="#fff" stroke="#333"/>
<rect x="107" y="755" width="40" height="45" fill="none" stroke="#bbb"/>
<g fill="none" stroke-width="1">
<path d="M112,764H165" stroke="#888"/><path d="M112,767H190" stroke="#ff50a0"/><path d="M117,774H150V770H190" stroke="#555"/><path d="M112,784H160V786H190" stroke="#ff50a0"/><path d="M112,792H107V798H137V794H190" stroke="#20d020"/>
<path d="M100,778H112M112,762V792" stroke="#555" stroke-dasharray="2,1"/>
</g>
<g fill="#fff" stroke="#333" stroke-width="0.8"><rect x="115" y="762" width="8" height="3"/><rect x="120" y="772" width="8" height="3"/><rect x="118" y="782" width="8" height="3"/><rect x="115" y="790" width="8" height="3"/><rect x="150" y="783" width="12" height="10" stroke="#aaa"/></g>
<g fill="#fff" stroke="#333"><rect x="186" y="757" width="9" height="12"/><rect x="186" y="785" width="9" height="10"/></g>
<text x="106" y="817" class="b">Throttle</text><text x="95" y="831" class="b">Potentiometer</text>
<text x="97" y="846" font-size="8" fill="#333">P/N 172750</text>

<text x="188" y="844" class="b">Left</text><text x="176" y="857" class="b">Diagnostic</text><text x="176" y="870" class="b">Interface</text><text x="176" y="883" class="b">Plug</text>
<g fill="#fff" stroke="#333"><rect x="244" y="843" width="19" height="8"/><rect x="240" y="851" width="24" height="14"/><rect x="244" y="865" width="19" height="7"/><rect x="244" y="872" width="16" height="12"/></g>
<g font-size="7" fill="#222"><text x="243" y="842" font-size="5.5">3 8 1</text><text x="248" y="850" font-size="6">A</text><text x="242" y="861">K G L</text><text x="249" y="882" font-size="6">B</text></g>

<!-- ECU -->
<rect x="315" y="842" width="388" height="35" fill="#fff" stroke="#444"/>
<rect x="317" y="842" width="386" height="5" fill="url(#tk)"/>
<line x1="315" y1="847" x2="703" y2="847" stroke="#888" stroke-width="0.5"/>
<g font-size="7.5" fill="#333" text-anchor="middle">
<text x="320" y="857">88</text><text x="333" y="857">85</text><text x="354" y="857">80</text><text x="376" y="857">75</text><text x="397" y="857">70</text><text x="419" y="857">65</text><text x="441" y="857">60</text><text x="463" y="857">55</text><text x="485" y="857">50</text><text x="507" y="857">45</text><text x="529" y="857">40</text><text x="550" y="857">35</text><text x="572" y="857">30</text><text x="594" y="857">25</text><text x="616" y="857">20</text><text x="637" y="857">15</text><text x="659" y="857">10</text><text x="681" y="857">5</text><text x="699" y="857">1</text>
</g>
<text x="425" y="888" class="b">Left Hand Engine Bank Motronics ECU</text>
<rect x="405" y="893" width="275" height="37" fill="#fff" stroke="#444" stroke-width="1.2"/>
<rect x="411" y="898" width="262" height="28" rx="7" fill="#fff" stroke="#444"/>
<rect x="680" y="902" width="22" height="20" fill="#888" stroke="#444"/>
<path d="M702,902l4,10l-4,10" fill="#888" stroke="#444"/>
<rect x="415" y="899" width="258" height="27" fill="url(#cr)"/>
<g fill="none" stroke-width="2">
<path d="M417,903h6M420,900v6M431,903h6M434,900v6M489,903h6M492,900v6M503,903h6M506,900v6M524,903h6M527,900v6M531,903h6M534,900v6M638,903h6M641,900v6M659,903h6M662,900v6" stroke="#111"/>
<path d="M424,903h6M427,900v6M645,903h6M648,900v6M466,912h6M469,909v6" stroke="#1030e0"/>
<path d="M438,903h6M441,900v6M424,912h6M427,909v6" stroke="#f08000"/>
<path d="M496,903h6M499,900v6M431,912h6M434,909v6M424,921h6M427,918v6M452,921h6M455,918v6M497,921h6M500,918v6" stroke="#8020c0"/>
<path d="M510,903h6M513,900v6M652,912h6M655,909v6M431,921h6M434,918v6" stroke="#20a020"/>
<path d="M417,912h6M420,909v6M510,912h6M513,909v6M517,912h6M520,909v6M524,912h6M527,909v6M589,912h6M592,909v6M638,912h6M641,909v6M645,912h6M648,909v6M511,921h6M514,918v6M645,921h6M648,918v6M652,921h6M655,918v6" stroke="#111"/>
<path d="M452,912h6M455,909v6" stroke="#e8d800"/>
<path d="M459,912h6M462,909v6" stroke="#e02020"/>
<path d="M438,921h6M441,918v6M445,921h6M448,918v6M630,921h6M633,918v6" stroke="#909000"/>
</g>
<g font-size="6" fill="#333"><text x="412" y="898">28</text><text x="490" y="898">20</text><text x="555" y="898">10</text><text x="412" y="931">88</text><text x="465" y="931">80</text><text x="530" y="931">70</text><text x="595" y="931">60</text></g>
<path d="M340,903v8M336,907h8" stroke="#ccc" stroke-width="2"/>
<text x="347" y="909" font-size="7" fill="#444">unused contact</text>
<path d="M338,919v8M334,923h8" stroke="#e00" stroke-width="2"/><path d="M342,923q4,4 10,2" stroke="#33f" fill="none"/>
<path d="M344,917H356" stroke="#e00"/>
<text x="357" y="918" font-size="7" fill="#444">wire colour</text><text x="357" y="926" font-size="7" fill="#444">stripe colour</text>

<!-- Thermo ECU etc -->
<rect x="745" y="837" width="52" height="30" fill="#ccf6f6" stroke="#333"/>
<rect x="748" y="830" width="30" height="9" fill="#ccf6f6" stroke="#333"/><rect x="783" y="830" width="12" height="9" fill="#ccf6f6" stroke="#333"/>
<g font-size="5.5" fill="#222"><text x="749" y="847">A  B  C  D</text><text x="740" y="839">A</text><text x="797" y="838">B</text></g>
<rect x="813" y="842" width="18" height="25" fill="#ccf6f6" stroke="#333"/><rect x="815" y="828" width="14" height="10" fill="#ccf6f6" stroke="#333"/>
<path d="M822,838V852l-4,4h8l-4,-4" fill="none" stroke="#333" stroke-width="0.8"/>
<text x="827" y="827" font-size="6" fill="#333">A</text>
<rect x="855" y="827" width="51" height="38" fill="#ccf6f6" stroke="#333"/>
<rect x="857" y="822" width="47" height="8" fill="#ccf6f6" stroke="#333"/>
<g fill="none" stroke="#333" stroke-width="0.9"><circle cx="878" cy="848" r="7"/><path d="M859,842l10,10M859,852l10,-10M871,847h-5M874,843l8,5l-8,5z"/></g>
<rect x="890" y="843" width="9" height="8" fill="#111"/><rect x="894" y="843" width="5" height="8" fill="#fff" stroke="#111" stroke-width="0.6"/>
<text x="875" y="823" font-size="6" fill="#333">A</text>
<text x="747" y="881" class="b">Thermo</text><text x="754" y="894" class="b">ECU</text>
<text x="797" y="882" class="b">Left Cat</text><text x="785" y="895" class="b">Thermocouple</text>
<text x="855" y="882" class="b">Idle Speed</text><text x="860" y="895" class="b">Regulator</text>
<g stroke="#555" stroke-width="0.9" fill="#fff">
<path d="M712,877L726,870L740,880L765,908L770,925L760,932L748,928L730,905L712,890Z"/>
<path d="M716,880L726,875L736,883L728,890Z" fill="#ddd"/>
<path d="M766,905c8,-6 12,-8 18,-10M768,910c8,-4 12,-6 16,-7" fill="none"/>
<path d="M858,925L896,905L906,912L868,933Z"/><ellipse cx="862" cy="929" rx="5" ry="4"/>
<path d="M896,905l8,-5l6,5l-6,8z"/>
</g>
<text x="725" y="944" font-size="7" fill="#333">P/N 179278</text>
<text x="863" y="946" font-size="7" fill="#333">P/N 142432</text>
<rect x="950" y="839" width="25" height="28" fill="#ccf6f6" stroke="#333"/>
<rect x="956" y="827" width="12" height="12" fill="#ccf6f6" stroke="#333"/>
<text x="959" y="836" font-size="6" fill="#333">A</text>
<path d="M962,845v16M958,855l8,-6" fill="none" stroke="#333" stroke-width="0.8"/>
<text x="935" y="882" class="b">Left Water</text><text x="932" y="895" class="b">Temperature</text><text x="945" y="908" class="b">sensor</text>
<text x="944" y="921" font-size="7" fill="#333">P/N 125769</text><text x="938" y="935" font-size="7" fill="#333">Bosch 0 280 130 026</text>
<g stroke="#444" stroke-width="1" fill="#fff">
<path d="M991,822l22,-3l8,8l0,22l-28,2l-3,-6z" fill="#f0f0f0"/>
<rect x="993" y="852" width="28" height="16" rx="3"/>
<rect x="999" y="868" width="16" height="38" rx="2"/>
<path d="M998,826h14v6h-14z"/>
</g>

<!-- Legend 2 -->
<rect x="1052" y="815" width="144" height="100" fill="#fff" stroke="#333" stroke-width="1.2"/>
<line x1="1052" y1="827" x2="1196" y2="827" stroke="#333"/>
<text x="1124" y="825" font-size="8.5" fill="#333" text-anchor="middle">Wire Colours</text>
<g font-size="8.5" fill="#222">
<rect x="1054" y="832" width="4" height="4" fill="#9ff"/><text x="1061" y="837">A</text><text x="1073" y="837">Light blue</text>
<rect x="1054" y="845" width="4" height="4" fill="#bbb"/><text x="1061" y="850">B</text><text x="1077" y="850">White</text>
<rect x="1054" y="857" width="4" height="4" fill="#f80"/><text x="1061" y="862">C</text><text x="1074" y="862">Orange</text>
<rect x="1054" y="870" width="4" height="4" fill="#ff0"/><text x="1061" y="875">G</text><text x="1075" y="875">Yellow</text>
<rect x="1054" y="882" width="4" height="4" fill="#888"/><text x="1061" y="887">H</text><text x="1078" y="887">Grey</text>
<rect x="1054" y="894" width="4" height="4" fill="#00f"/><text x="1061" y="899">L</text><text x="1079" y="899">Blue</text>
<rect x="1054" y="907" width="4" height="4" fill="#800"/><text x="1061" y="912">M</text><text x="1074" y="912">Brown</text>
<rect x="1128" y="832" width="4" height="4" fill="#000"/><text x="1136" y="837">N</text><text x="1151" y="837">Black</text>
<rect x="1128" y="845" width="4" height="4" fill="#990"/><text x="1136" y="850">P</text><text x="1151" y="850">Beige</text>
<rect x="1128" y="857" width="4" height="4" fill="#f00"/><text x="1136" y="862">R</text><text x="1151" y="862">Red</text>
<rect x="1128" y="870" width="4" height="4" fill="#f09"/><text x="1136" y="875">S</text><text x="1152" y="875">Pink</text>
<rect x="1128" y="882" width="4" height="4" fill="#0e0"/><text x="1136" y="887">V</text><text x="1149" y="887">Green</text>
<rect x="1128" y="894" width="4" height="4" fill="#90f"/><text x="1136" y="899">Z</text><text x="1149" y="899">Violet</text>
</g>
</svg>
</body></html>
